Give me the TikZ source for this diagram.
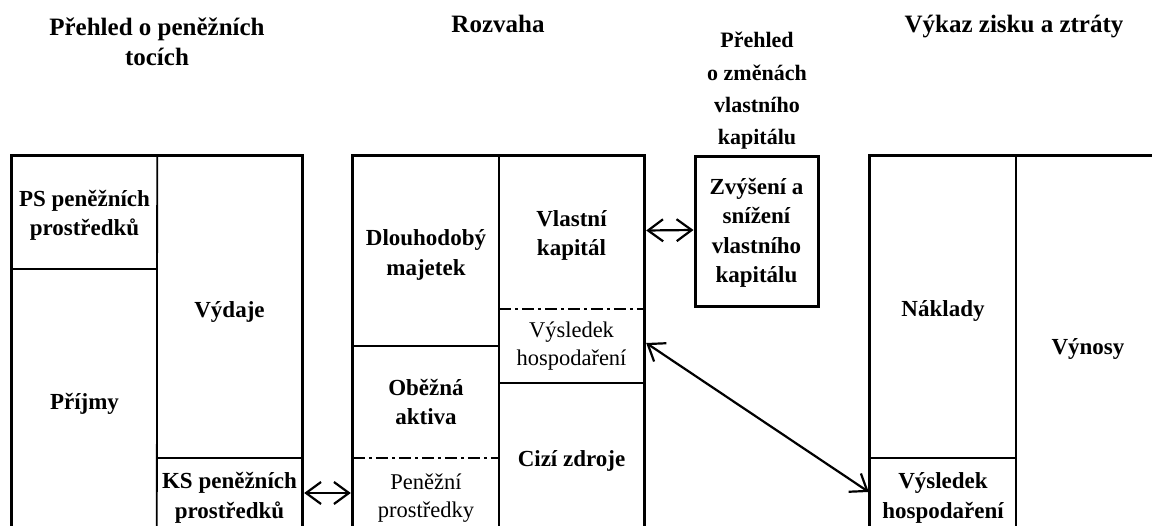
\documentclass[tikz,border=0pt]{standalone}
\usepackage{fontspec}
\setmainfont{Liberation Serif}
\usetikzlibrary{arrows.meta}
\begin{document}
\begin{tikzpicture}[x=1pt,y=-1pt,
  cell/.style={rectangle, inner sep=0pt},
  txt/.style={inner sep=0pt, align=center, font=\bfseries\fontsize{23}{29.5}\selectfont},
  plaintxt/.style={txt, font=\fontsize{22.5}{28}\selectfont},
  title/.style={inner sep=0pt, align=center, font=\bfseries\fontsize{25}{30.5}\selectfont},
  frame/.style={line width=3pt},
  divider/.style={line width=1.8pt},
  dashdot/.style={line width=1.5pt, dash pattern=on 12pt off 4pt on 3pt off 4pt},
  link/.style={line width=2.2pt, {Straight Barb[length=15pt,width=22pt,line width=2.2pt]}-{Straight Barb[length=15pt,width=22pt,line width=2.2pt]}}
]
\useasboundingbox (0,0) rectangle (1152,526);
\clip (0,0) rectangle (1152,526);

% titles
\node[title] (t1) at (157,42) {Přehled o peněžních\\tocích};
\node[title, anchor=base] (t2) at (498,33) {Rozvaha};
\node[title, font=\bfseries\fontsize{22}{32.3}\selectfont] (t3) at (757,91) {Přehled\\o změnách\\vlastního\\kapitálu};
\node[title, anchor=base] (t4) at (1014,33) {Výkaz zisku a ztráty};

% cash-flow statement
\node[cell, minimum width=145pt, minimum height=113pt] (ps) at (84.5,212.5) {};
\node[cell, minimum width=145pt, minimum height=269pt] (prijmy) at (84.5,403.5) {};
\node[cell, minimum width=145pt, minimum height=302pt] (vydaje) at (229.5,307) {};
\node[cell, minimum width=145pt, minimum height=80pt] (ks) at (229.5,498) {};
\node[txt] (ps-t) at ([yshift=-3pt]ps.center) {PS peněžních\\prostředků};
\node[txt] (prijmy-t) at (prijmy.center) {Příjmy};
\node[txt] (vydaje-t) at ([yshift=-5pt]vydaje.center) {Výdaje};
\node[txt] (ks-t) at (ks.center) {KS peněžních\\prostředků};

% balance sheet
\node[cell, minimum width=146pt, minimum height=190pt] (dm) at (426,251) {};
\node[cell, minimum width=146pt, minimum height=112pt] (oa) at (426,402) {};
\node[cell, minimum width=146pt, minimum height=80pt] (pp) at (426,498) {};
\node[cell, minimum width=145pt, minimum height=153pt] (vk) at (571.5,232.5) {};
\node[cell, minimum width=145pt, minimum height=74pt] (vh) at (571.5,346) {};
\node[cell, minimum width=145pt, minimum height=155pt] (cz) at (571.5,460.5) {};
\node[txt] (dm-t) at ([yshift=-4pt]dm.center) {Dlouhodobý\\majetek};
\node[txt] (oa-t) at (oa.center) {Oběžná\\aktiva};
\node[plaintxt] (pp-t) at (pp.center) {Peněžní\\prostředky};
\node[txt] (vk-t) at ([yshift=-3pt]vk.center) {Vlastní\\kapitál};
\node[plaintxt] (vh-t) at (vh.center) {Výsledek\\hospodaření};
\node[txt] (cz-t) at (cz.center) {Cizí zdroje};

% equity changes
\node[cell, draw, frame, minimum width=123pt, minimum height=150pt] (zv) at (756.5,232) {};
\node[txt] (zv-t) at ([yshift=-1pt]zv.center) {Zvýšení a\\snížení\\vlastního\\kapitálu};

% income statement
\node[cell, minimum width=146pt, minimum height=302pt] (nak) at (943,307) {};
\node[cell, minimum width=146pt, minimum height=80pt] (vhv) at (943,498) {};
\node[cell, minimum width=144pt, minimum height=382pt] (vyn) at (1088,347) {};
\node[txt] (nak-t) at ([yshift=-4pt]nak.center) {Náklady};
\node[txt] (vhv-t) at (vhv.center) {Výsledek\\hospodaření};
\node[txt] (vyn-t) at ([yshift=-2pt]vyn.center) {Výnosy};

% frames
\draw[frame] (prijmy.south west) -- (ps.north west) -- (vydaje.north east) -- (ks.south east);
\draw[divider] (ps.north east) -- (ks.south west);
\draw[divider] (ps.south west) -- (ps.south east);
\draw[divider] (vydaje.south west) -- (vydaje.south east);

\draw[frame] (pp.south west) -- (dm.north west) -- (vk.north east) -- (cz.south east);
\draw[divider] (dm.north east) -- (pp.south east);
\draw[divider] (dm.south west) -- (dm.south east);
\draw[dashdot] (oa.south west) -- (oa.south east);
\draw[dashdot] (vk.south west) -- (vk.south east);
\draw[divider] (vh.south west) -- (vh.south east);

\draw[frame] (vhv.south west) -- (nak.north west) -- (vyn.north east);
\draw[divider] (nak.north east) -- (vhv.south east);
\draw[divider] (nak.south west) -- (nak.south east);

% connectors
\draw[link] ([yshift=5pt,xshift=2pt]ks.east) -- ([yshift=5pt,xshift=-2pt]pp.west);
\draw[link] ([yshift=2pt,xshift=2pt]vk.east) -- ([yshift=2pt]zv.west);
\draw[link] ([yshift=3pt,xshift=2pt]vh.east) -- ([yshift=6pt,xshift=-1pt]vhv.west);
\end{tikzpicture}
\end{document}
